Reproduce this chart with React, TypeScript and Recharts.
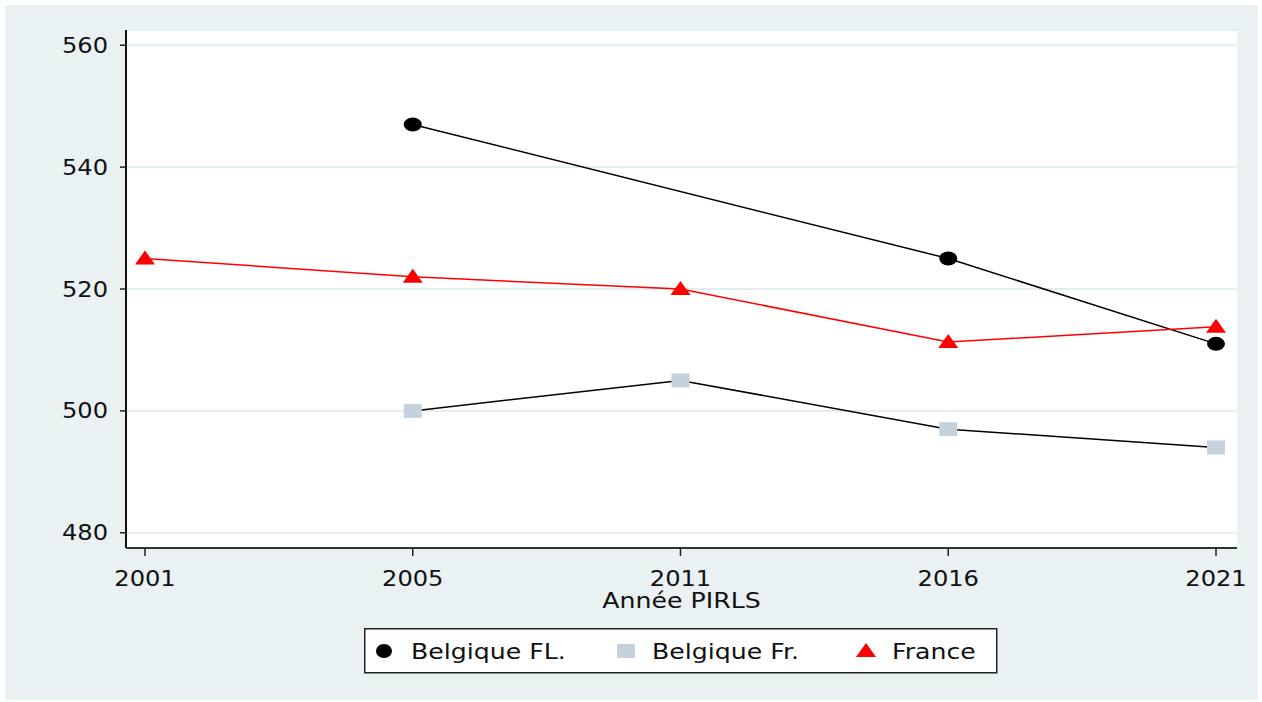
import React from "react"
import {
  LineChart, Line, XAxis, YAxis, CartesianGrid, Legend,
} from "recharts"

const years       = ["2001", "2005", "2011", "2016", "2021"]
const belgiqueFl  = [null, 547, null, 525, 511]
const belgiqueFr  = [null, 500, 505, 497, 494]
const france      = [525, 522, 520, 511.3, 513.8]
const yTicks      = [480, 500, 520, 540, 560]

const data = years.map((y, i) => ({
  year: y,
  fl: belgiqueFl[i],
  fr: belgiqueFr[i],
  france: france[i],
}))

const FONT = "'DejaVu Sans', Verdana, sans-serif"
const SX = 1.15   // digits
const SXT = 1.2   // words
const PANEL = "#EAF1F3"

const CircleDot = (p: any) => {
  if (p.value == null) return null
  return <ellipse key={p.index} cx={p.cx} cy={p.cy} rx={9} ry={7} fill="#000" />
}

const SquareDot = (p: any) => {
  if (p.value == null) return null
  return <rect key={p.index} x={p.cx - 9} y={p.cy - 7} width={18} height={14} fill="#C5D2DE" />
}

const TriangleDot = (p: any) => {
  if (p.value == null) return null
  const { cx, cy } = p
  return (
    <polygon key={p.index}
      points={`${cx - 10},${cy + 6} ${cx + 10},${cy + 6} ${cx},${cy - 8}`}
      fill="#FF0000" />
  )
}

const XTick = ({ x, y, payload }: any) => (
  <text transform={`translate(${x},${y + 30}) scale(${SX},1)`}
    textAnchor="middle" fontFamily={FONT} fontSize={21} fill="#111">
    {payload.value}
  </text>
)

const YTick = ({ x, y, payload }: any) => (
  <text transform={`translate(${x},${y + 7.5}) scale(${SX},1)`}
    textAnchor="end" fontFamily={FONT} fontSize={21} fill="#111">
    {payload.value}
  </text>
)

const AxisTitle = ({ viewBox }: any) => (
  <text transform={`translate(${viewBox.x + viewBox.width / 2},${viewBox.y + 60}) scale(${SXT},1)`}
    textAnchor="middle" fontFamily={FONT} fontSize={21} fill="#111">
    Année PIRLS
  </text>
)

const LegendBox = () => (
  <svg width={634} height={46}>
    <rect x={0.75} y={0.75} width={632} height={44} fill="#fff" stroke="#222" strokeWidth={1.5} />
    <ellipse cx={20} cy={23} rx={8} ry={7} fill="#000" />
    <text transform={`translate(47,30.5) scale(${SXT},1)`} fontFamily={FONT} fontSize={21} fill="#111">Belgique FL.</text>
    <rect x={253} y={16} width={18} height={14} fill="#C5D2DE" />
    <text transform={`translate(288,30.5) scale(${SXT},1)`} fontFamily={FONT} fontSize={21} fill="#111">Belgique Fr.</text>
    <polygon points="492,29 512,29 502,15" fill="#FF0000" />
    <text transform={`translate(528,30.5) scale(${SXT},1)`} fontFamily={FONT} fontSize={21} fill="#111">France</text>
  </svg>
)

export default function App() {
  return (
    <div style={{ position: "fixed", left: 0, top: 0, width: 1262, height: 702, background: "#fff" }}>
      <div style={{ position: "absolute", left: 5, top: 5, width: 1253, height: 695, background: PANEL }}>
        <LineChart width={1253} height={695} data={data}
          margin={{ top: 25, right: 21, left: 0, bottom: 36 }}>
          <CartesianGrid horizontal vertical={false} fill="#fff" stroke="#E4EDEF" strokeWidth={2} />
          <XAxis dataKey="year" type="category" height={70}
            padding={{ left: 19, right: 21 }}
            axisLine={{ stroke: "#333", strokeWidth: 2 }}
            tickLine={{ stroke: "#222", strokeWidth: 1.5 }}
            tickSize={8} tickMargin={0}
            tick={<XTick />}
            label={<AxisTitle />}
          />
          <YAxis type="number" domain={[477.5, 562.5]} ticks={yTicks} width={121}
            axisLine={{ stroke: "#111", strokeWidth: 2 }}
            tickLine={{ stroke: "#222", strokeWidth: 1.5 }}
            tickSize={6} tickMargin={12}
            tick={<YTick />}
            allowDataOverflow
          />
          <Line dataKey="fl" name="Belgique FL." stroke="#000" strokeWidth={1.5}
            connectNulls dot={CircleDot} activeDot={false} isAnimationActive={false} />
          <Line dataKey="fr" name="Belgique Fr." stroke="#000" strokeWidth={1.5}
            dot={SquareDot} activeDot={false} isAnimationActive={false} />
          <Line dataKey="france" name="France" stroke="#FF0000" strokeWidth={1.5}
            dot={TriangleDot} activeDot={false} isAnimationActive={false} />
          <Legend content={<LegendBox />}
            wrapperStyle={{ position: "absolute", left: 359, top: 623, width: 634, height: 46, bottom: "auto" }} />
        </LineChart>
      </div>
    </div>
  )
}
